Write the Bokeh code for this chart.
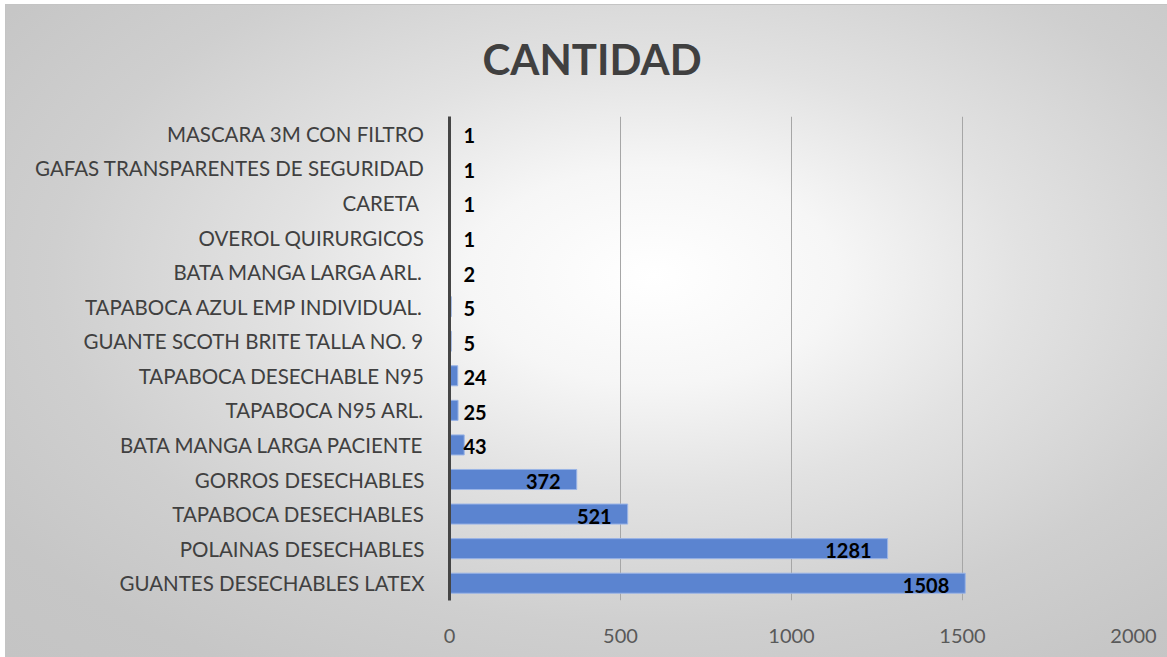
from bokeh.plotting import figure
from bokeh.models import FactorRange, Range1d, FixedTicker, ColumnDataSource
from bokeh.core.properties import value
from bokeh.embed import file_html
from bokeh.resources import INLINE

# ---- data (bottom to top) ----
categories = [
    "GUANTES DESECHABLES LATEX",
    "POLAINAS DESECHABLES",
    "TAPABOCA DESECHABLES",
    "GORROS DESECHABLES",
    "BATA MANGA LARGA PACIENTE",
    "TAPABOCA N95 ARL.",
    "TAPABOCA DESECHABLE N95",
    "GUANTE SCOTH BRITE TALLA NO. 9",
    "TAPABOCA AZUL EMP INDIVIDUAL.",
    "BATA MANGA LARGA ARL.",
    "OVEROL QUIRURGICOS",
    "CARETA ",
    "GAFAS TRANSPARENTES DE SEGURIDAD",
    "MASCARA 3M CON FILTRO",
]
cantidad = [1508, 1281, 521, 372, 43, 25, 24, 5, 5, 2, 1, 1, 1, 1]
x_ticks = [0, 500, 1000, 1500, 2000]
title_text = "CANTIDAD"

FONT = "Lato"

p = figure(
    width=1167, height=657,
    y_range=FactorRange(factors=categories, range_padding=0),
    x_range=Range1d(0, 2000),
    output_backend="svg", toolbar_location=None,
    min_border_left=449, min_border_right=34,
    min_border_top=116, min_border_bottom=57,
    title=title_text,
)
p.background_fill_alpha = 0
p.border_fill_alpha = 0
p.outline_line_color = None
p.styles = {
    "background": "radial-gradient(ellipse farthest-corner at 56% 42%, #ffffff 0%, #f6f6f6 20%, #e2e2e2 40%, #cfcfcf 65%, #c6c6c6 85%, #c4c4c4 100%)",
    "box-shadow": "inset 5px 4px 0 0 #ffffff, inset 6px 5px 0 0 #c4c4c4",
}

p.title.align = "left"
p.title.offset = 33
p.title.vertical_align = "middle"
p.title.standoff = 64
p.title.text_font = FONT
p.title.text_font_style = "bold"
p.title.text_font_size = "42px"
p.title.text_color = "#404040"

src = ColumnDataSource(dict(cat=categories, val=cantidad, lab=[str(v) for v in cantidad]))
p.hbar(y="cat", right="val", left=0, height=0.58, source=src,
       fill_color="#5b84d0", line_color="#9ab4e6", line_width=1)

small = [i for i, v in enumerate(cantidad) if v < 100]
big = [i for i, v in enumerate(cantidad) if v >= 100]
src_small = ColumnDataSource(dict(cat=[categories[i] for i in small],
                                  val=[cantidad[i] for i in small],
                                  zero=[0 for i in small],
                                  lab=[str(cantidad[i]) for i in small]))
src_big = ColumnDataSource(dict(cat=[categories[i] for i in big],
                                val=[cantidad[i] for i in big],
                                lab=[str(cantidad[i]) for i in big]))
p.text(x="zero", y="cat", text="lab", source=src_small, x_offset=14, y_offset=2,
       text_align="left", text_baseline="middle", text_font=value(FONT),
       text_font_style="bold", text_font_size="20px", text_color="#000000")
p.text(x="val", y="cat", text="lab", source=src_big, x_offset=-16, y_offset=2,
       text_align="right", text_baseline="middle", text_font=value(FONT),
       text_font_style="bold", text_font_size="20px", text_color="#000000")

# axes
p.xaxis.ticker = FixedTicker(ticks=x_ticks)
p.xaxis.axis_line_color = None
p.xaxis.major_tick_line_color = None
p.xaxis.minor_tick_line_color = None
p.xaxis.major_label_standoff = 22
p.xaxis.major_label_text_font = FONT
p.xaxis.major_label_text_font_size = "20px"
p.xaxis.major_label_text_color = "#595959"

p.yaxis.axis_line_color = "#454545"
p.yaxis.axis_line_width = 3
p.yaxis.major_tick_line_color = None
p.yaxis.minor_tick_line_color = None
p.yaxis.major_label_standoff = 19
p.yaxis.major_label_text_font = FONT
p.yaxis.major_label_text_font_size = "20.5px"
p.yaxis.major_label_text_color = "#404040"

p.xgrid.grid_line_color = "#a6a6a6"
p.xgrid.grid_line_width = 1
p.ygrid.grid_line_color = None

open("out.html", "w").write(file_html(p, INLINE))
